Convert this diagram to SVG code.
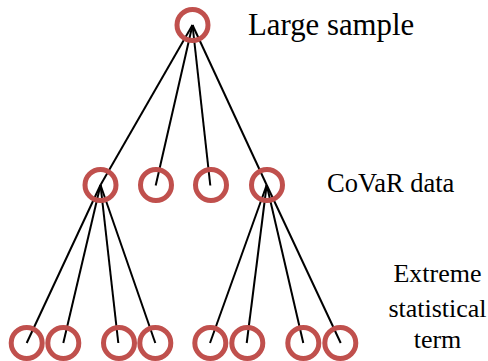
<svg xmlns="http://www.w3.org/2000/svg" width="488" height="361" viewBox="0 0 488 361">
<style>
.n{fill:none;stroke:#c0504d;stroke-width:5}
.e{stroke:#000;stroke-width:2;fill:none}
.t{font-family:'Liberation Serif','Times New Roman','DejaVu Serif',serif;fill:#000}
</style>
<rect width="488" height="361" fill="#fff"/>
<g id="connectors">
<line class="e" x1="192.5" y1="25" x2="100.5" y2="185"/>
<line class="e" x1="192.5" y1="25" x2="155.7" y2="185.5"/>
<line class="e" x1="192.5" y1="25" x2="210.3" y2="185.5"/>
<line class="e" x1="192.5" y1="25" x2="266.7" y2="185"/>
<line class="e" x1="100.5" y1="185" x2="26.7" y2="343"/>
<line class="e" x1="100.5" y1="185" x2="63.3" y2="343"/>
<line class="e" x1="100.5" y1="185" x2="118.3" y2="343"/>
<line class="e" x1="100.5" y1="185" x2="155.3" y2="343"/>
<line class="e" x1="266.7" y1="185" x2="210" y2="343"/>
<line class="e" x1="266.7" y1="185" x2="246.7" y2="343"/>
<line class="e" x1="266.7" y1="185" x2="303.3" y2="343"/>
<line class="e" x1="266.7" y1="185" x2="340.7" y2="343"/>
</g>
<g id="root"><circle class="n" cx="192.5" cy="25" r="15.5"/></g>
<g id="m1"><circle class="n" cx="100.5" cy="185" r="15.5"/></g>
<g id="m2"><circle class="n" cx="156" cy="185" r="15.5"/></g>
<g id="m3"><circle class="n" cx="211" cy="185" r="15.5"/></g>
<g id="m4"><circle class="n" cx="267" cy="185" r="15.5"/></g>
<g id="b1"><circle class="n" cx="26.7" cy="343" r="15.5"/></g>
<g id="b2"><circle class="n" cx="63.3" cy="343" r="15.5"/></g>
<g id="b3"><circle class="n" cx="119" cy="343" r="15.5"/></g>
<g id="b4"><circle class="n" cx="155.3" cy="343" r="15.5"/></g>
<g id="b5"><circle class="n" cx="210.3" cy="343" r="15.5"/></g>
<g id="b6"><circle class="n" cx="247.3" cy="343" r="15.5"/></g>
<g id="b7"><circle class="n" cx="303.3" cy="343" r="15.5"/></g>
<g id="b8"><circle class="n" cx="340.3" cy="343" r="15.5"/></g>
<g id="labels">
<text class="t" font-family="Liberation Serif, serif" x="248" y="35" font-size="30.8">Large sample</text>
<text class="t" font-family="Liberation Serif, serif" x="327" y="192.3" font-size="26.5">CoVaR data</text>
<text class="t" font-family="Liberation Serif, serif" x="437.5" y="281.7" font-size="26" text-anchor="middle">Extreme</text>
<text class="t" font-family="Liberation Serif, serif" x="437.5" y="316.7" font-size="26" text-anchor="middle">statistical</text>
<text class="t" font-family="Liberation Serif, serif" x="437.5" y="348.3" font-size="26" text-anchor="middle">term</text>
</g>
</svg>
